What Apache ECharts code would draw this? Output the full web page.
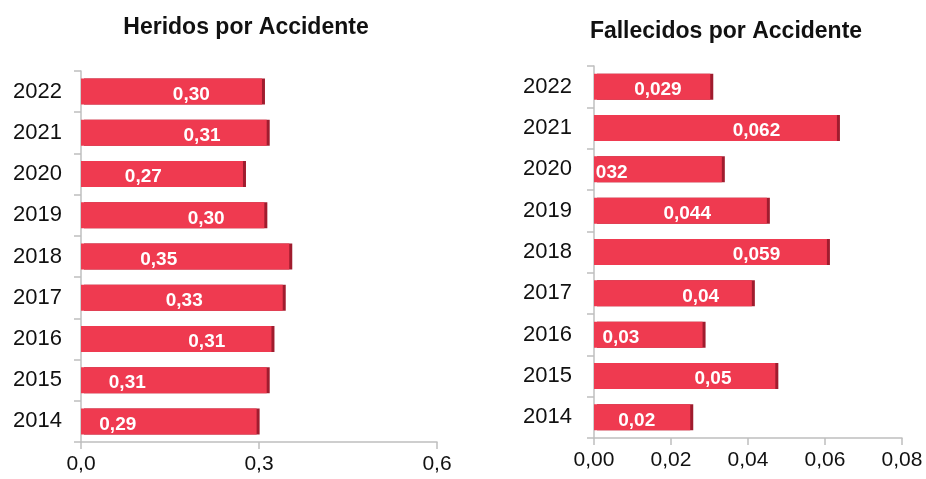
<!DOCTYPE html>
<html>
<head>
<meta charset="utf-8">
<script src="https://cdn.jsdelivr.net/npm/echarts@6/dist/echarts.min.js"></script>
<style>html,body{margin:0;padding:0;background:#fff}#c{width:926px;height:479px}</style>
</head>
<body>
<div id="c"></div>
<script>
const years = ['2014','2015','2016','2017','2018','2019','2020','2021','2022'];
const heridos = [0.296, 0.313, 0.321, 0.340, 0.351, 0.309, 0.273, 0.313, 0.305];
const heridosLabels = ['0,29','0,31','0,31','0,33','0,35','0,30','0,27','0,31','0,30'];
const heridosLabelAt = [0.062, 0.078, 0.212, 0.174, 0.131, 0.211, 0.105, 0.204, 0.186];
const fallecidos = [0.025, 0.0471, 0.0282, 0.041, 0.0605, 0.0449, 0.0332, 0.0631, 0.0302];
const fallecidosLabels = ['0,02','0,05','0,03','0,04','0,059','0,044','032','0,062','0,029'];
const fallecidosLabelAt = [0.0111, 0.0309, 0.0070, 0.0277, 0.0422, 0.0242, 0.0046, 0.0422, 0.0166];
const xTicksL = ['0,0','0,3','0,6'];
const xTicksR = ['0,00','0,02','0,04','0,06','0,08'];

const FONT = "'Liberation Sans', Arial, sans-serif";
const BAR = '#ef3a50';
const EDGE = '#a01c2e';
const AXIS = '#bfbfbf';

function buildData(vals, labels, at) {
  return vals.map((v, i) => ({
    value: v,
    label: {
      show: true,
      formatter: labels[i],
      position: [(at[i] / v * 100) + '%', '50%'],
      offset: [0, 3],
      align: 'center',
      verticalAlign: 'middle'
    }
  }));
}

const catAxis = (gi, margin) => ({
  type: 'category', gridIndex: gi, data: years,
  axisLine: {lineStyle: {color: AXIS, width: 1.5}},
  axisTick: {show: true, length: 7, lineStyle: {color: AXIS, width: 1.5}},
  axisLabel: {color: '#111', fontSize: 22, fontFamily: FONT, margin: margin},
  splitLine: {show: false}
});

const chart = echarts.init(document.getElementById('c'), null, {renderer: 'canvas'});
chart.setOption({
  animation: false,
  backgroundColor: '#fff',
  title: [
    {text: 'Heridos por Accidente', left: 241, top: 11, textAlign: 'center',
     textStyle: {fontSize: 23, fontWeight: 'bold', fontFamily: FONT, color: '#111'}},
    {text: 'Fallecidos por Accidente', left: 721, top: 15, textAlign: 'center',
     textStyle: {fontSize: 23, fontWeight: 'bold', fontFamily: FONT, color: '#111'}}
  ],
  grid: [
    {left: 81, top: 71, width: 356, height: 371},
    {left: 594, top: 66, width: 308, height: 372}
  ],
  xAxis: [
    {type: 'value', gridIndex: 0, min: 0, max: 0.6, interval: 0.3,
     axisLine: {show: true, lineStyle: {color: AXIS, width: 1.5}},
     axisTick: {show: true, length: 7, lineStyle: {color: AXIS, width: 1.5}},
     splitLine: {show: false},
     axisLabel: {color: '#111', fontSize: 21, fontFamily: FONT, margin: 12,
       formatter: (v) => xTicksL[Math.round(v / 0.3)]}},
    {type: 'value', gridIndex: 1, min: 0, max: 0.08, interval: 0.02,
     axisLine: {show: true, lineStyle: {color: AXIS, width: 1.5}},
     axisTick: {show: true, length: 7, lineStyle: {color: AXIS, width: 1.5}},
     splitLine: {show: false},
     axisLabel: {color: '#111', fontSize: 21, fontFamily: FONT, margin: 12,
       formatter: (v) => xTicksR[Math.round(v / 0.02)]}}
  ],
  yAxis: [catAxis(0, 19), catAxis(1, 22)],
  series: [
    {type: 'bar', xAxisIndex: 0, yAxisIndex: 0, barWidth: 26,
     data: buildData(heridos, heridosLabels, heridosLabelAt),
     itemStyle: {color: BAR, shadowColor: EDGE, shadowOffsetX: 3, shadowOffsetY: 0, shadowBlur: 0},
     label: {color: '#fff', fontSize: 19, fontWeight: 'bold', fontFamily: FONT}},
    {type: 'bar', xAxisIndex: 1, yAxisIndex: 1, barWidth: 26,
     data: buildData(fallecidos, fallecidosLabels, fallecidosLabelAt),
     itemStyle: {color: BAR, shadowColor: EDGE, shadowOffsetX: 3, shadowOffsetY: 0, shadowBlur: 0},
     label: {color: '#fff', fontSize: 19, fontWeight: 'bold', fontFamily: FONT}}
  ]
});
</script>
</body>
</html>
